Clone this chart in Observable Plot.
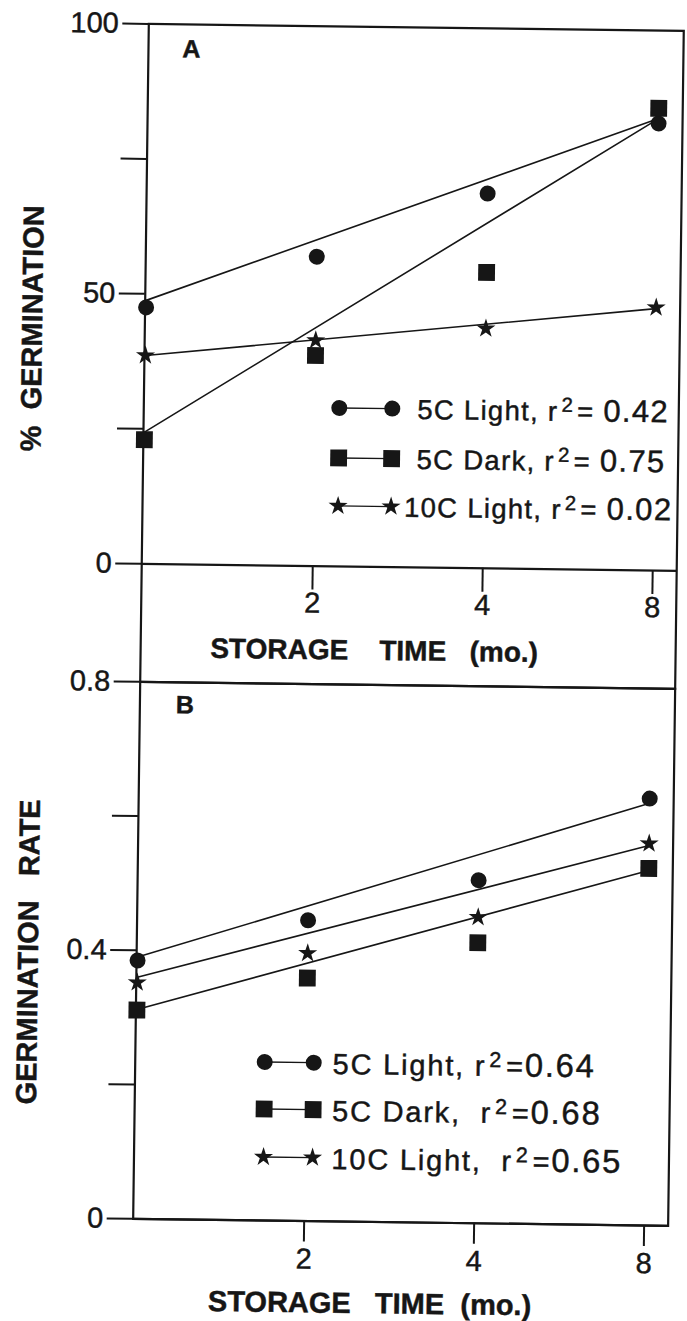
<!DOCTYPE html>
<html><head><meta charset="utf-8">
<script src="https://cdn.jsdelivr.net/npm/d3@7"></script>
<script src="https://cdn.jsdelivr.net/npm/@observablehq/plot@0.6"></script>
<style>
html,body{margin:0;padding:0;background:#fff;overflow:hidden;}
#wrap{position:relative;width:687px;height:1321px;transform:rotate(0.75deg);transform-origin:343px 660px;font-family:"Liberation Sans",Arial,sans-serif;color:#161616;}
.panel{position:absolute;left:0;}
.panel svg{background:transparent !important;overflow:visible;}
.panel svg text{stroke:currentColor;stroke-width:0.45px;}
.legtxt{position:absolute;white-space:pre;line-height:30px;height:30px;-webkit-text-stroke:0.45px #161616;}
.sup{position:relative;top:-0.42em;font-size:0.74em;margin:0 3px 0 3px;}
.num{font-size:1.13em;}
</style></head><body><div id="wrap"></div>
<script>
// ---------- data ----------
const months = [0, 2, 4, 8];
const xTickValues = [2, 4, 8];
const seriesNames = ["5C Light", "5C Dark", "10C Light"];

// Panel A: % germination
const germA_5CLight = [47.5, 57.3, 69.4, 82.8];
const germA_5CDark = [23.0, 39.0, 54.8, 85.6];
const germA_10CLight = [38.6, 41.8, 44.4, 48.7];
// fitted line ends (month 0, month 8)
const fitA_5CLight = [48.8, 83.7];
const fitA_5CDark = [24.4, 83.7];
const fitA_10CLight = [38.6, 48.5];
const r2A = ["0.42", "0.75", "0.02"];
const yTicksA = [0, 25, 50, 75, 100];
const yLabelsA = [0, 50, 100];

// Panel B: germination rate
const rateB_5CLight = [0.385, 0.448, 0.511, 0.636];
const rateB_5CDark = [0.311, 0.362, 0.418, 0.532];
const rateB_10CLight = [0.352, 0.399, 0.456, 0.569];
const fitB_5CLight = [0.390, 0.629];
const fitB_5CDark = [0.312, 0.529];
const fitB_10CLight = [0.360, 0.566];
const r2B = ["0.64", "0.68", "0.65"];
const yTicksB = [0, 0.2, 0.4, 0.6, 0.8];
const yLabelsB = [0, 0.4, 0.8];

// ---------- helpers ----------
const INK = "#161616";
const symbols = ["circle", "square", "star"];
const symbolR = [8, 9.5, 6];
const d3Sym = [d3.symbolCircle, d3.symbolSquare, d3.symbolStar];

function points(seriesVals) {
  return seriesVals.flatMap((vals, s) => vals.map((v, i) => ({series: seriesNames[s], month: months[i], value: v})));
}
function fits(fitVals) {
  return fitVals.flatMap((vals, s) => [
    {series: seriesNames[s], month: months[0], value: vals[0]},
    {series: seriesNames[s], month: months[months.length - 1], value: vals[1]}
  ]);
}

function panel(cfg) {
  const pts = points(cfg.series);
  const lines = fits(cfg.fits);
  const marks = [
    Plot.frame({stroke: INK, strokeWidth: 2.2, insetBottom: cfg.frameExtend || 0}),
    Plot.ruleY([0], {stroke: INK, strokeWidth: 2.2}),
    Plot.axisY(cfg.yTicks, {tickSize: 26, tickPadding: 4, strokeWidth: 2, fontSize: 29,
      tickFormat: d => cfg.yLabels.includes(d) ? cfg.fmt(d) : "", label: null}),
    Plot.axisX(xTickValues, {tickSize: cfg.xTickSize, tickPadding: cfg.xTickPad, strokeWidth: 2, fontSize: 29, label: null}),
    Plot.line(lines, {x: "month", y: "value", z: "series", stroke: INK, strokeWidth: 1.6}),
    ...seriesNames.map((name, s) => Plot.dot(pts.filter(d => d.series === name),
      {x: "month", y: "value", symbol: symbols[s], r: symbolR[s], fill: INK, stroke: "none"})),
    Plot.text([cfg.panelLabel], {text: d => d, frameAnchor: "top-left", dx: cfg.labelDx, dy: cfg.labelDy,
      textAnchor: "start", lineAnchor: "middle", fontSize: 25, fontWeight: "bold", fill: INK}),
    Plot.text([cfg.xTitle], {text: d => d, frameAnchor: "bottom", dx: cfg.xTitleDx, dy: cfg.xTitleDy,
      textAnchor: "middle", lineAnchor: "middle", fontSize: cfg.xTitleSize, fontWeight: "bold", fill: INK}),
    Plot.text([cfg.yTitle], {text: d => d, frameAnchor: "left", rotate: -90, dx: cfg.yTitleDx, dy: cfg.yTitleDy,
      textAnchor: "middle", lineAnchor: "middle", fontSize: 29, fontWeight: "bold", fill: INK})
  ];
  return Plot.plot({
    width: 687, height: cfg.height,
    marginTop: cfg.marginTop, marginBottom: cfg.marginBottom, marginLeft: 140, marginRight: 12,
    style: {background: "transparent", color: INK, fontSize: "29px", fontFamily: '"Liberation Sans", Arial, sans-serif'},
    x: {type: "point", domain: months, range: [140, 652], padding: 0},
    y: {domain: cfg.yDomain},
    marks
  });
}

const wrap = document.getElementById("wrap");

const divA = document.createElement("div");
divA.className = "panel"; divA.style.top = "0px";
divA.append(panel({
  height: 684, marginTop: 26, marginBottom: 118, frameExtend: -118,
  yDomain: [0, 100], yTicks: yTicksA, yLabels: yLabelsA, fmt: d => String(d),
  xTickSize: 24, xTickPad: 2,
  series: [germA_5CLight, germA_5CDark, germA_10CLight],
  fits: [fitA_5CLight, fitA_5CDark, fitA_10CLight],
  panelLabel: "A", labelDx: 34, labelDy: 25,
  xTitle: "STORAGE\u00a0\u00a0\u00a0\u00a0TIME\u00a0\u00a0\u00a0(mo.)", xTitleSize: 28, xTitleDx: -34, xTitleDy: 84,
  yTitle: "%\u00a0\u00a0GERMINATION", yTitleDx: -112, yTitleDy: 36
}));
wrap.append(divA);

const divB = document.createElement("div");
divB.className = "panel"; divB.style.top = "660px";
divB.append(panel({
  height: 661, marginTop: 24, marginBottom: 100, frameExtend: 0,
  yDomain: [0, 0.8], yTicks: yTicksB, yLabels: yLabelsB, fmt: d => d === 0 ? "0" : d.toFixed(1),
  xTickSize: 21, xTickPad: 6,
  series: [rateB_5CLight, rateB_5CDark, rateB_10CLight],
  fits: [fitB_5CLight, fitB_5CDark, fitB_10CLight],
  panelLabel: "B", labelDx: 36, labelDy: 23,
  xTitle: "STORAGE\u00a0\u00a0\u00a0TIME\u00a0\u00a0(mo.)", xTitleSize: 29, xTitleDx: -30, xTitleDy: 82,
  yTitle: "GERMINATION\u00a0\u00a0\u00a0RATE", yTitleDx: -108, yTitleDy: 3
}));
wrap.append(divB);

// ---------- legends ----------
function legend(cfg) {
  seriesNames.forEach((name, s) => {
    const y = cfg.rows[s];
    const gap = cfg.x2 - cfg.x1;
    const svg = d3.create("svg").attr("width", gap + 30).attr("height", 30)
      .style("position", "absolute").style("left", (cfg.x1 - 15) + "px").style("top", (y - 15) + "px")
      .style("overflow", "visible");
    svg.append("line").attr("x1", 15).attr("x2", 15 + gap).attr("y1", 15).attr("y2", 15)
      .attr("stroke", INK).attr("stroke-width", 1.4);
    const path = d3.symbol(d3Sym[s], Math.PI * symbolR[s] * symbolR[s])();
    [15, 15 + gap].forEach(cx => svg.append("path").attr("d", path)
      .attr("transform", `translate(${cx},15)`).attr("fill", INK));
    wrap.append(svg.node());
    const t = document.createElement("div");
    t.className = "legtxt";
    t.style.left = cfg.textX[s] + "px";
    t.style.top = (y - 15) + "px";
    t.style.fontSize = cfg.fontSize + "px";
    t.style.letterSpacing = cfg.spacing + "px";
    t.innerHTML = `${cfg.labels[s]}<span class="sup">2</span>${cfg.eq}<span class="num">${cfg.r2[s]}</span>`;
    wrap.append(t);
  });
}
legend({x1: 336, x2: 389, rows: [408, 458, 506], textX: [414, 414, 402], fontSize: 27.5, spacing: 1.3,
  labels: ["5C Light, r", "5C Dark, r", "10C Light, r"], eq: "= ", r2: r2A});
legend({x1: 270, x2: 319, rows: [1063, 1110, 1158], textX: [338, 338, 338], fontSize: 29, spacing: 1.8,
  labels: ["5C Light, r", "5C Dark,  r", "10C Light,  r"], eq: "=", r2: r2B});
</script></body></html>
